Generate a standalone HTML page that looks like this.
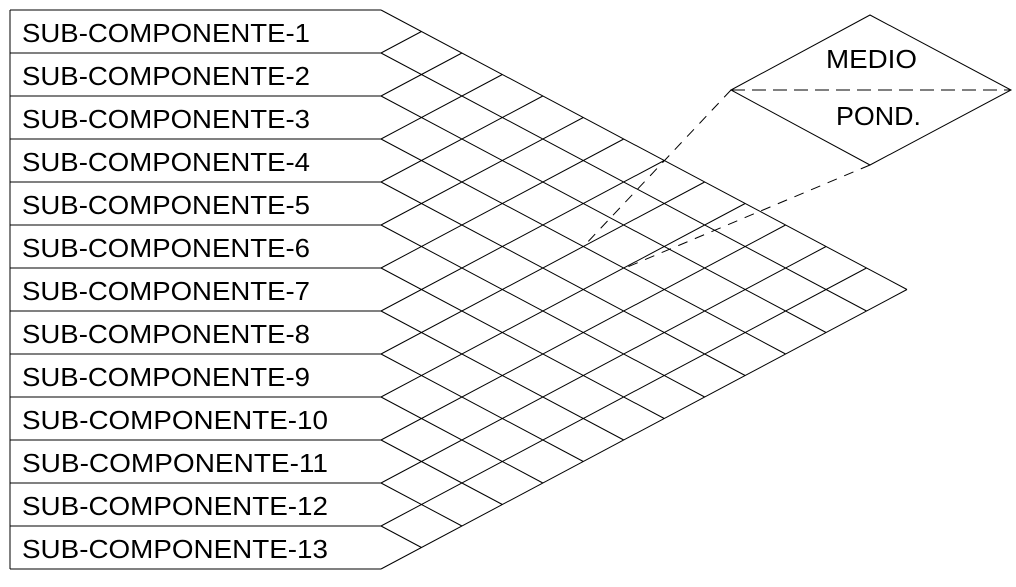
<!DOCTYPE html>
<html><head><meta charset="utf-8"><style>html,body{margin:0;padding:0;background:#fff}svg{display:block}</style></head>
<body>
<svg width="1016" height="587" viewBox="0 0 1016 587" xmlns="http://www.w3.org/2000/svg" id="s">
<g stroke="#000" stroke-width="1" fill="none" id="g"></g>
<g font-family="'Liberation Sans', Arial, sans-serif" font-size="26" fill="#000" id="t"></g>
<polygon points="731,90 870,15 1011,90 870,165" fill="none" stroke="#000"/>
<line x1="731" y1="90" x2="1011" y2="90" stroke="#000" stroke-dasharray="14,7"/>
<line x1="731" y1="90" x2="583" y2="247" stroke="#000" stroke-dasharray="10,8"/>
<line x1="870" y1="165" x2="625" y2="268" stroke="#000" stroke-dasharray="10,8"/>
<text x="826" y="68" font-family="'Liberation Sans', Arial, sans-serif" font-size="26" textLength="91" lengthAdjust="spacingAndGlyphs">MEDIO</text>
<text x="836" y="125" font-family="'Liberation Sans', Arial, sans-serif" font-size="26" textLength="85" lengthAdjust="spacingAndGlyphs">POND.</text>
</svg>
<script>
var NS="http://www.w3.org/2000/svg",g=document.getElementById("g"),t=document.getElementById("t");
function L(a,b,c,d){var l=document.createElementNS(NS,"line");l.setAttribute("x1",a);l.setAttribute("y1",b);l.setAttribute("x2",c);l.setAttribute("y2",d);g.appendChild(l);}
var X=381,dx=40.46,h=21.5;
L(10,10,10,569);
for(var k=0;k<=13;k++){var y=10+43*k;L(10,y,X,y);
 if(k<13){var n=13-k;L(X,y,X+n*dx,y+n*h);}
 if(k>0){L(X,y,X+k*dx,y-k*h);}
}
for(var k=1;k<=13;k++){var e=document.createElementNS(NS,"text");e.setAttribute("x",22);e.setAttribute("y",10+43*(k-1)+32);
 e.setAttribute("textLength",k>=10?306:288);e.setAttribute("lengthAdjust","spacingAndGlyphs");e.textContent="SUB-COMPONENTE-"+k;t.appendChild(e);}
</script>
</body></html>
